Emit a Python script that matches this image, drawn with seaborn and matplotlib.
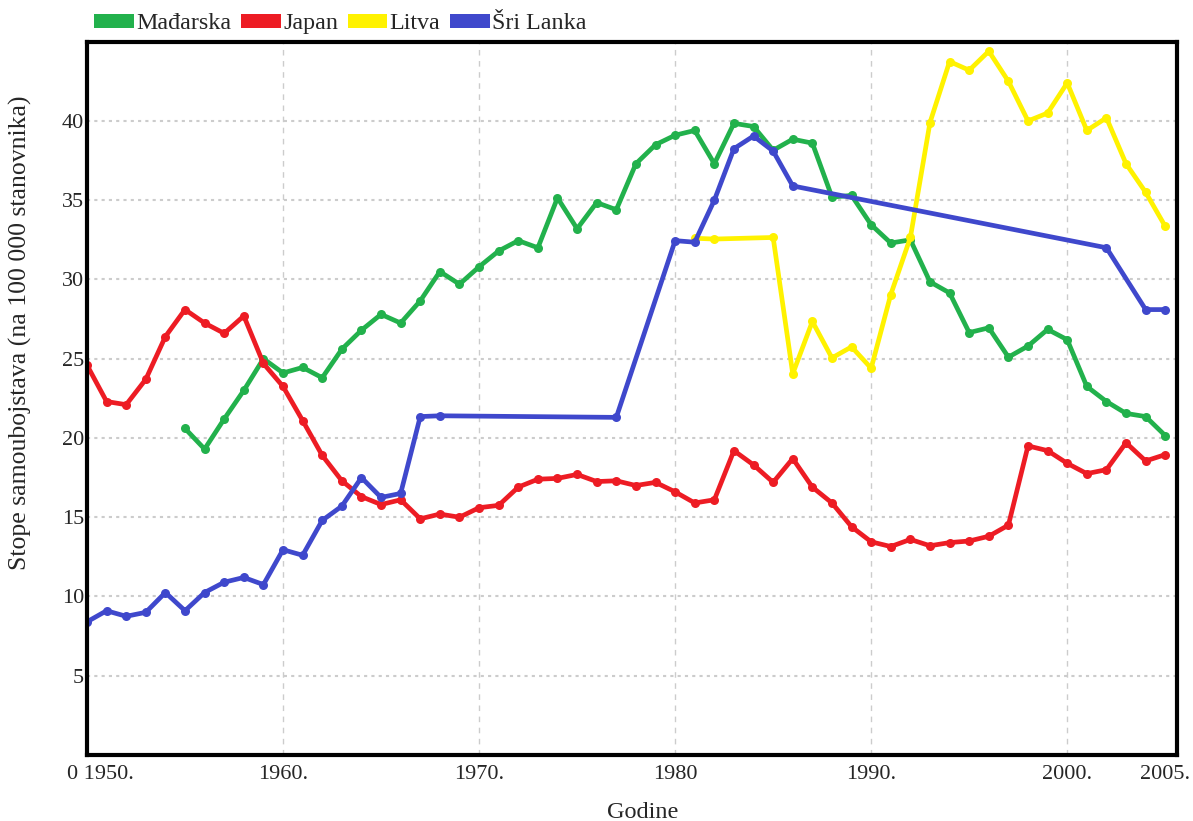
import matplotlib
matplotlib.use("Agg")
import matplotlib.pyplot as plt
import matplotlib.transforms as mtransforms
from matplotlib.patches import Patch
import seaborn as sns
import pandas as pd

# data (suicide rates per 100 000)
hu_years = list(range(1955, 2006))
hu_vals = [20.6, 19.3, 21.2, 23.0, 25.0, 24.1, 24.45, 23.8, 25.6, 26.8,
           27.8, 27.25, 28.65, 30.5, 29.7, 30.8, 31.8, 32.45, 32.0, 35.15,
           33.2, 34.85, 34.4, 37.3, 38.5, 39.1, 39.4, 37.3, 39.85, 39.65,
           38.15, 38.85, 38.6, 35.2, 35.3, 33.45, 32.3, 32.5, 29.85, 29.15,
           26.65, 26.95, 25.1, 25.8, 26.85, 26.2, 23.25, 22.3, 21.55, 21.35,
           20.15]

jp_years = list(range(1950, 2006))
jp_vals = [24.6, 22.3, 22.1, 23.7, 26.4, 28.1, 27.25, 26.6, 27.7, 24.7,
           23.25, 21.1, 18.9, 17.3, 16.3, 15.8, 16.1, 14.9, 15.2, 15.0,
           15.6, 15.75, 16.9, 17.4, 17.45, 17.7, 17.25, 17.3, 17.0, 17.2,
           16.6, 15.9, 16.1, 19.2, 18.3, 17.2, 18.7, 16.9, 15.9, 14.4,
           13.45, 13.15, 13.6, 13.2, 13.4, 13.5, 13.8, 14.5, 19.5, 19.2,
           18.4, 17.75, 18.0, 19.7, 18.55, 18.95]

lt_years = [1981, 1982, 1985, 1986, 1987, 1988, 1989, 1990, 1991, 1992,
            1993, 1994, 1995, 1996, 1997, 1998, 1999, 2000, 2001, 2002,
            2003, 2004, 2005]
lt_vals = [32.6, 32.55, 32.65, 24.05, 27.35, 25.05, 25.75, 24.4, 29.05, 32.65,
           39.9, 43.75, 43.2, 44.4, 42.5, 40.0, 40.5, 42.4, 39.4, 40.2,
           37.3, 35.5, 33.35]

lk_years = [1950, 1951, 1952, 1953, 1954, 1955, 1956, 1957, 1958, 1959,
            1960, 1961, 1962, 1963, 1964, 1965, 1966, 1967, 1968, 1977,
            1980, 1981, 1982, 1983, 1984, 1985, 1986, 2002, 2004, 2005]
lk_vals = [8.4, 9.1, 8.75, 9.0, 10.25, 9.1, 10.25, 10.9, 11.2, 10.75,
           12.95, 12.6, 14.8, 15.7, 17.5, 16.25, 16.5, 21.35, 21.4, 21.3,
           32.45, 32.35, 35.0, 38.25, 39.05, 38.1, 35.9, 32.0, 28.1, 28.1]

countries = ["Mađarska", "Japan", "Litva", "Šri Lanka"]
colors = ["#22B14C", "#ED1C24", "#FFF200", "#3F48CC"]

x_ticks = [1950, 1960, 1970, 1980, 1990, 2000, 2005]
x_labels = ["0 1950.", "1960.", "1970.", "1980", "1990.", "2000.", "2005."]
y_ticks = [5, 10, 15, 20, 25, 30, 35, 40]

# long form table
frames = []
for name, yrs, vals in zip(countries,
                           [hu_years, jp_years, lt_years, lk_years],
                           [hu_vals, jp_vals, lt_vals, lk_vals]):
    frames.append(pd.DataFrame({"godina": yrs, "stopa": vals, "zemlja": name}))
df = pd.concat(frames, ignore_index=True)

sns.set_style("white")
plt.rcParams["font.family"] = ["Liberation Serif", "DejaVu Serif"]

fig = plt.figure(figsize=(11.93, 8.21), dpi=100)
ax = fig.add_axes([0.0729, 0.0804, 0.9137, 0.8688])

# grid first so lines sit on top
for v in y_ticks:
    ax.axhline(v, color="#cccccc", lw=1.5, ls=(0, (1.5, 2)), zorder=0)
for v in x_ticks[1:-1]:
    ax.axvline(v, color="#cccccc", lw=1.0, ls=(0, (4, 4)), zorder=0)

sns.lineplot(data=df, x="godina", y="stopa", hue="zemlja",
             hue_order=countries, palette=colors, estimator=None,
             sort=True, marker="o", markersize=6.5, markeredgewidth=0,
             linewidth=3.4, legend=False, ax=ax)

ax.set_xlim(1950, 2005.6)
ax.set_ylim(0, 45)
ax.set_xticks(x_ticks)
ax.set_xticklabels(x_labels, fontsize=16)
ax.set_yticks(y_ticks)
ax.set_yticklabels([str(v) for v in y_ticks], fontsize=16)
ax.tick_params(axis="both", length=0)
ax.tick_params(axis="x", pad=7)
ax.tick_params(axis="y", pad=2)

# nudge the "0 1950." label right like in the original
shift = mtransforms.ScaledTranslation(13 / 100, 0, fig.dpi_scale_trans)
first = ax.get_xticklabels()[0]
first.set_transform(first.get_transform() + shift)

for sp in ax.spines.values():
    sp.set_color("black")
    sp.set_linewidth(3)

ax.set_xlabel("Godine", fontsize=17.5)
ax.xaxis.set_label_coords(0.51, -0.066)
ax.set_ylabel("Stope samoubojstava (na 100 000 stanovnika)", fontsize=18.5)
ax.yaxis.set_label_coords(-0.05, 0.592)

handles = [Patch(facecolor=c, edgecolor="none", label=n)
           for n, c in zip(countries, colors)]
ax.legend(handles=handles, loc="lower left", bbox_to_anchor=(0.0, 1.0),
          ncol=4, frameon=False, fontsize=17.3, borderaxespad=0.2,
          borderpad=0.1, handlelength=1.65, handleheight=0.52,
          handletextpad=0.1, columnspacing=0.4)

plt.savefig("out.png", dpi=100)
plt.close()
